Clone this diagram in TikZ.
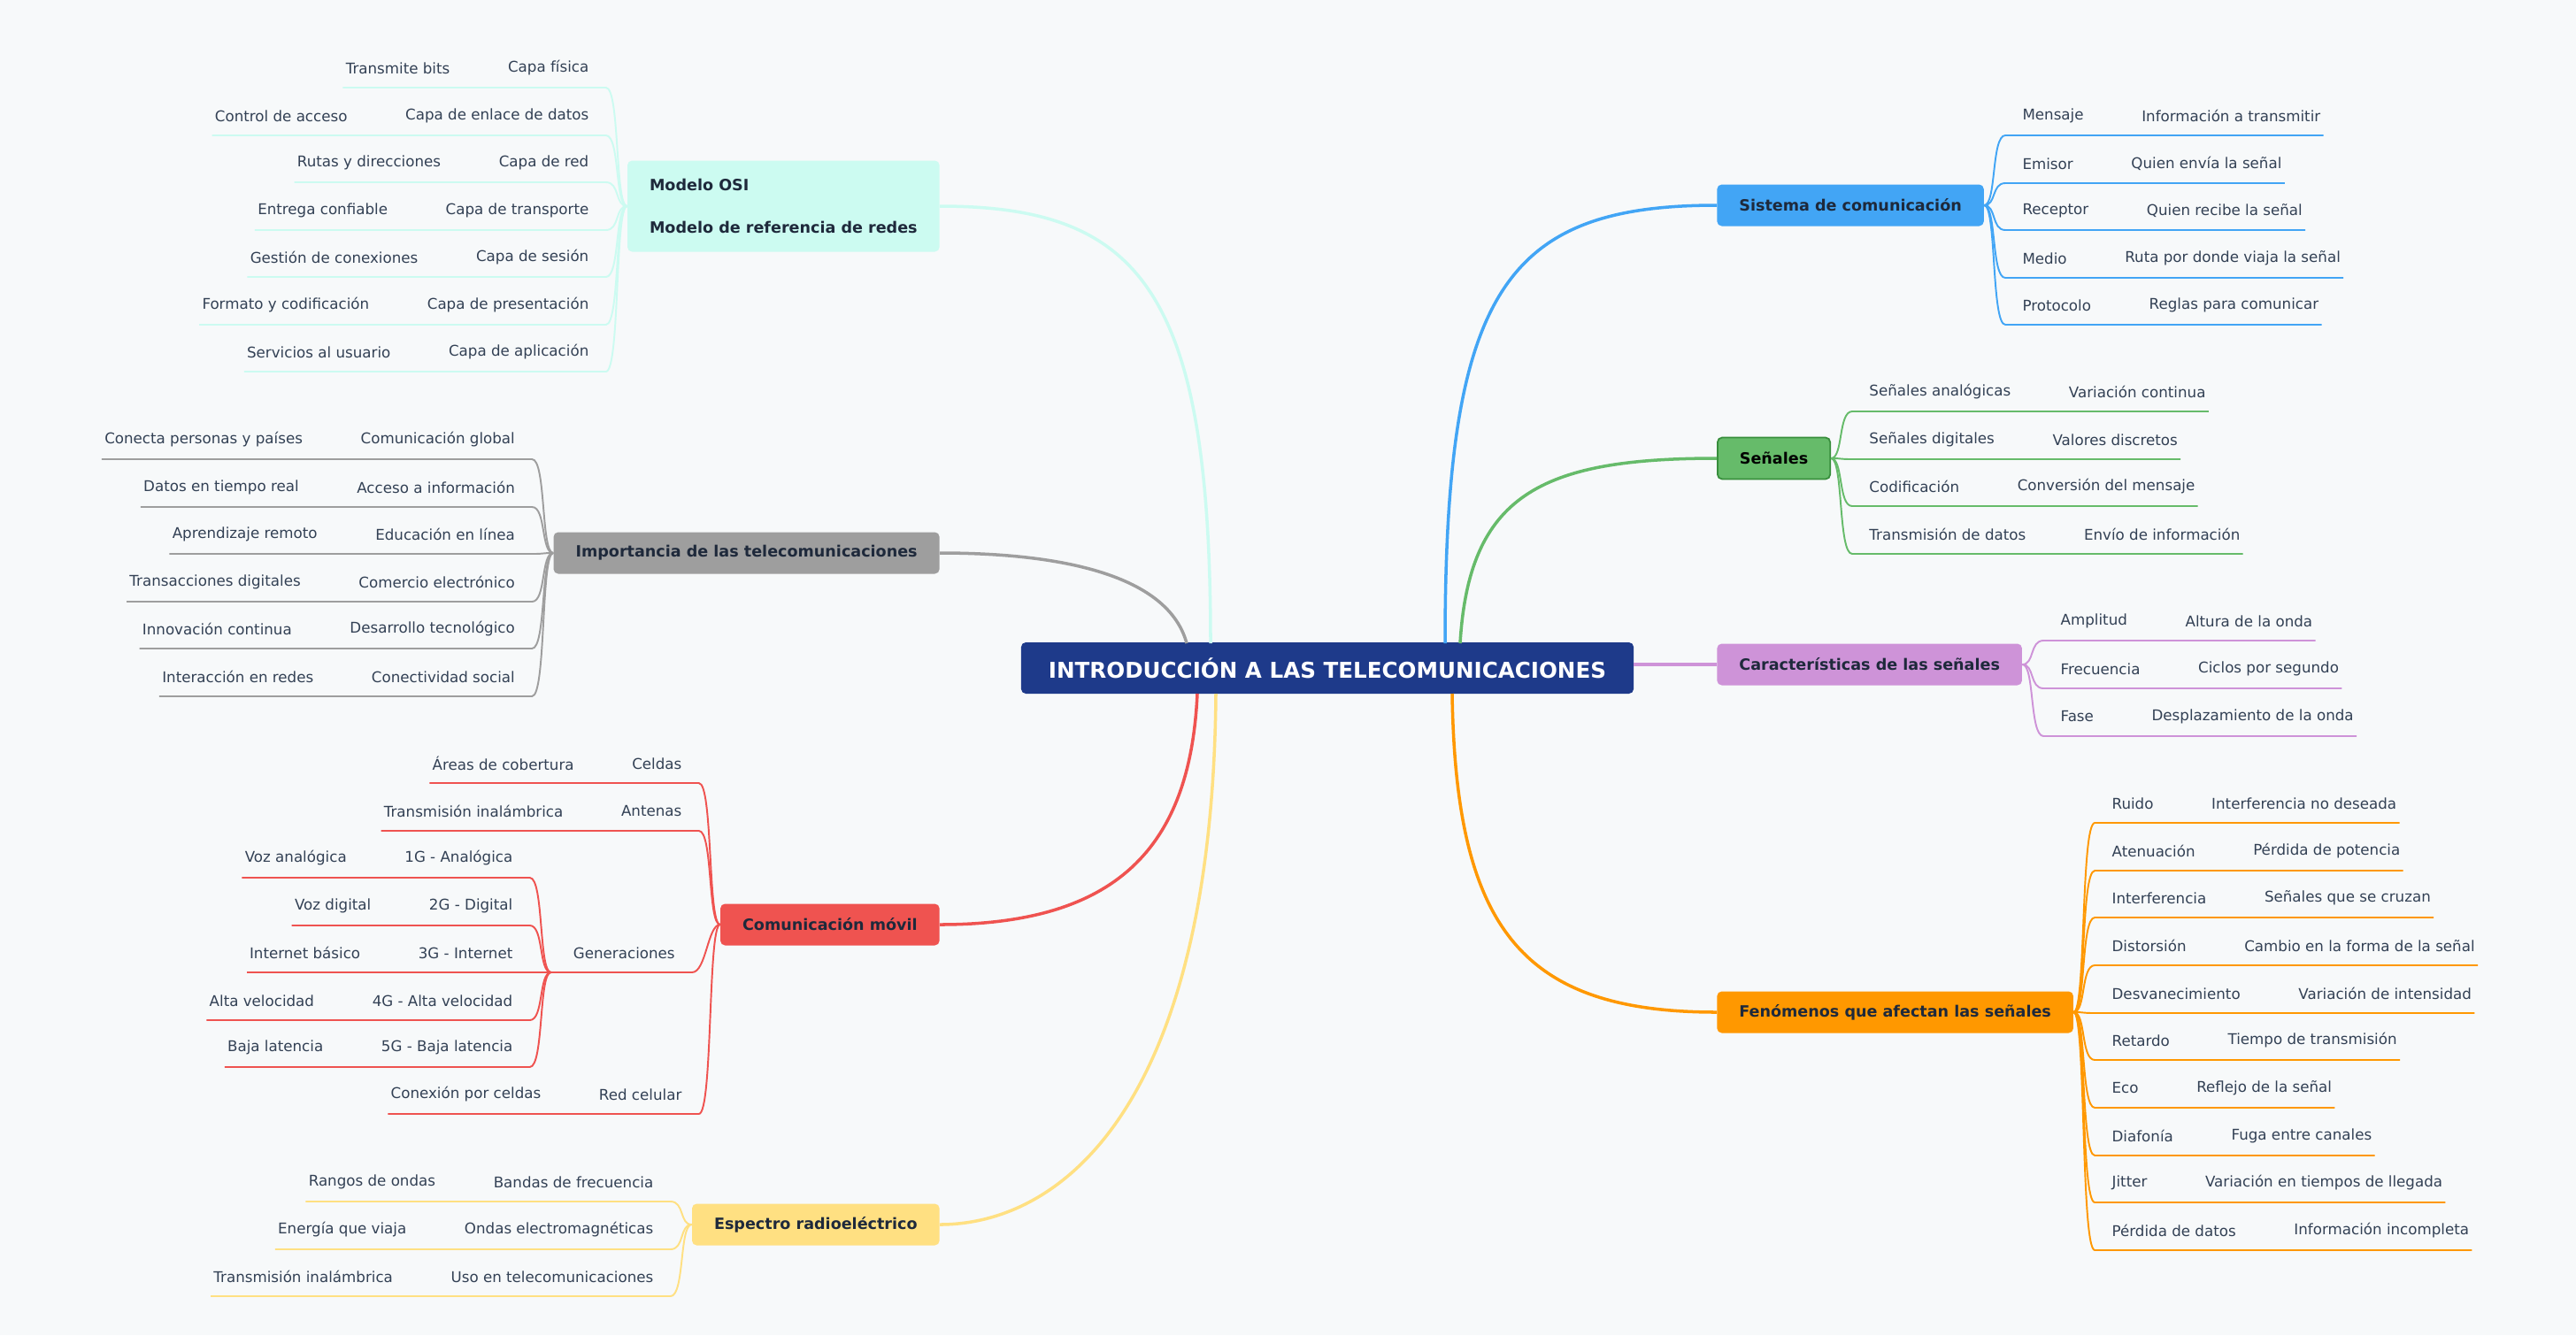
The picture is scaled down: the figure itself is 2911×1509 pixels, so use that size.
\documentclass[tikz,border=0pt]{standalone}
\usepackage{fontspec}
\setmainfont{DejaVu Sans}
\usepackage{tikz}
\usetikzlibrary{positioning,calc}

\definecolor{bgcol}{HTML}{F7F9FA}
\definecolor{txtcol}{HTML}{334155}
\definecolor{darkcol}{HTML}{1E293B}
\definecolor{rootcol}{HTML}{1E3A8A}
\definecolor{bluecol}{HTML}{42A5F5}
\definecolor{greencol}{HTML}{66BB6A}
\definecolor{greenedge}{HTML}{388E3C}
\definecolor{purplecol}{HTML}{CE93D8}
\definecolor{orangecol}{HTML}{FF9800}
\definecolor{cyancol}{HTML}{CCFBF1}
\definecolor{graycol}{HTML}{9E9E9E}
\definecolor{redcol}{HTML}{EF5350}
\definecolor{yellowcol}{HTML}{FFE082}

\tikzset{
  leaf/.style={inner sep=0pt,text=txtcol,font=\fontsize{9.5}{11}\selectfont},
  branch/.style={rounded corners=3pt,inner xsep=0.5cm,minimum height=0.94cm,
    text=darkcol,font=\fontsize{10}{12}\selectfont\bfseries},
  link/.style={line width=1.1pt},
  mainlink/.style={line width=2pt}
}

% right-hand row: parent, name, line y, label, text, colour
\newcommand{\rowR}[6]{%
  \coordinate (#2y) at (0,#3);
  \path (#1.east) ++(24,0) coordinate (#2o);
  \node[leaf,anchor=west] (#2) at ($(#2o |- #2y)+(19,-22)$) {#4};
  \node[leaf,right=1.3cm of #2] (#2d) {#5};
  \draw[link,#6] (#1.east) .. controls +(14,0) and +(-16,0) .. (#2o |- #2y)
    -- ($(#2d.east |- #2y)+(3,0)$);
}
% left-hand row
\newcommand{\rowL}[6]{%
  \coordinate (#2y) at (0,#3);
  \path (#1.west) ++(-24,0) coordinate (#2o);
  \node[leaf,anchor=east] (#2) at ($(#2o |- #2y)+(-19,-22)$) {#4};
  \node[leaf,left=1.3cm of #2] (#2d) {#5};
  \draw[link,#6] (#1.west) .. controls +(-14,0) and +(16,0) .. (#2o |- #2y)
    -- ($(#2d.west |- #2y)+(-3,0)$);
}

\begin{document}
\begin{tikzpicture}[x=0.02cm,y=-0.02cm]
  \fill[bgcol] (0,0) rectangle (2911,1509);
  \useasboundingbox (0,0) rectangle (2911,1509);

  % centre
  \node[rounded corners=3pt,fill=rootcol,text=white,inner xsep=0.62cm,minimum height=1.16cm,
    font=\fontsize{14}{16}\selectfont\bfseries] (root) at (1500,755)
    {INTRODUCCIÓN A LAS TELECOMUNICACIONES};

  % branches
  \node[branch,fill=bluecol,anchor=west] (sis) at (1940,232) {Sistema de comunicación};
  \node[branch,fill=greencol,draw=greenedge,line width=1pt,text=black,anchor=west] (sen) at (1940,518) {Señales};
  \node[branch,fill=purplecol,anchor=west] (car) at (1940,751) {Características de las señales};
  \node[branch,fill=orangecol,anchor=west] (fen) at (1940,1144) {Fenómenos que afectan las señales};
  \node[branch,fill=cyancol,anchor=east,align=left,minimum height=2.06cm,
    font=\fontsize{10}{27.5}\selectfont\bfseries] (osi) at (1062,233)
    {Modelo OSI\\Modelo de referencia de redes};
  \node[branch,fill=graycol,anchor=east] (imp) at (1062,625) {Importancia de las telecomunicaciones};
  \node[branch,fill=redcol,anchor=east] (mov) at (1062,1045) {Comunicación móvil};
  \node[branch,fill=yellowcol,anchor=east] (esp) at (1062,1384) {Espectro radioeléctrico};

  % main connectors
  \draw[mainlink,bluecol] (1633,727) .. controls (1633,330) and (1700,232) .. (sis.west);
  \draw[mainlink,greencol] (1650,727) .. controls (1660,560) and (1740,518) .. (sen.west);
  \draw[mainlink,purplecol] (root.east |- car.west) -- (car.west);
  \draw[mainlink,orangecol] (1641,784) .. controls (1645,1050) and (1720,1144) .. (fen.west);
  \draw[mainlink,cyancol] (1368,727) .. controls (1368,330) and (1290,233) .. (osi.east);
  \draw[mainlink,graycol] (1341,727) .. controls (1320,650) and (1200,625) .. (imp.east);
  \draw[mainlink,redcol] (1353,784) .. controls (1345,960) and (1260,1045) .. (mov.east);
  \draw[mainlink,yellowcol] (1374,784) .. controls (1370,1250) and (1200,1384) .. (esp.east);

  % Sistema de comunicación
  \rowR{sis}{s1}{153}{Mensaje}{Información a transmitir}{bluecol}
  \rowR{sis}{s2}{207}{Emisor}{Quien envía la señal}{bluecol}
  \rowR{sis}{s3}{260}{Receptor}{Quien recibe la señal}{bluecol}
  \rowR{sis}{s4}{314}{Medio}{Ruta por donde viaja la señal}{bluecol}
  \rowR{sis}{s5}{367}{Protocolo}{Reglas para comunicar}{bluecol}

  % Señales
  \rowR{sen}{g1}{465}{Señales analógicas}{Variación continua}{greencol}
  \rowR{sen}{g2}{519}{Señales digitales}{Valores discretos}{greencol}
  \rowR{sen}{g3}{572}{Codificación}{Conversión del mensaje}{greencol}
  \rowR{sen}{g4}{626}{Transmisión de datos}{Envío de información}{greencol}

  % Características
  \rowR{car}{c1}{724}{Amplitud}{Altura de la onda}{purplecol}
  \rowR{car}{c2}{778}{Frecuencia}{Ciclos por segundo}{purplecol}
  \rowR{car}{c3}{832}{Fase}{Desplazamiento de la onda}{purplecol}

  % Fenómenos
  \rowR{fen}{f1}{930}{Ruido}{Interferencia no deseada}{orangecol}
  \rowR{fen}{f2}{984}{Atenuación}{Pérdida de potencia}{orangecol}
  \rowR{fen}{f3}{1037}{Interferencia}{Señales que se cruzan}{orangecol}
  \rowR{fen}{f4}{1091}{Distorsión}{Cambio en la forma de la señal}{orangecol}
  \rowR{fen}{f5}{1145}{Desvanecimiento}{Variación de intensidad}{orangecol}
  \rowR{fen}{f6}{1198}{Retardo}{Tiempo de transmisión}{orangecol}
  \rowR{fen}{f7}{1252}{Eco}{Reflejo de la señal}{orangecol}
  \rowR{fen}{f8}{1306}{Diafonía}{Fuga entre canales}{orangecol}
  \rowR{fen}{f9}{1359}{Jitter}{Variación en tiempos de llegada}{orangecol}
  \rowR{fen}{f10}{1413}{Pérdida de datos}{Información incompleta}{orangecol}

  % Modelo OSI
  \rowL{osi}{o1}{99}{Capa física}{Transmite bits}{cyancol}
  \rowL{osi}{o2}{153}{Capa de enlace de datos}{Control de acceso}{cyancol}
  \rowL{osi}{o3}{206}{Capa de red}{Rutas y direcciones}{cyancol}
  \rowL{osi}{o4}{260}{Capa de transporte}{Entrega confiable}{cyancol}
  \rowL{osi}{o5}{313}{Capa de sesión}{Gestión de conexiones}{cyancol}
  \rowL{osi}{o6}{367}{Capa de presentación}{Formato y codificación}{cyancol}
  \rowL{osi}{o7}{420}{Capa de aplicación}{Servicios al usuario}{cyancol}

  % Importancia
  \rowL{imp}{i1}{519}{Comunicación global}{Conecta personas y países}{graycol}
  \rowL{imp}{i2}{573}{Acceso a información}{Datos en tiempo real}{graycol}
  \rowL{imp}{i3}{626}{Educación en línea}{Aprendizaje remoto}{graycol}
  \rowL{imp}{i4}{680}{Comercio electrónico}{Transacciones digitales}{graycol}
  \rowL{imp}{i5}{733}{Desarrollo tecnológico}{Innovación continua}{graycol}
  \rowL{imp}{i6}{787}{Conectividad social}{Interacción en redes}{graycol}

  % Comunicación móvil
  \rowL{mov}{m1}{885}{Celdas}{Áreas de cobertura}{redcol}
  \rowL{mov}{m2}{939}{Antenas}{Transmisión inalámbrica}{redcol}
  \node[inner sep=0pt,minimum size=0pt] (gen) at (623,1099) {};
  \node[leaf,anchor=east] (m3) at (763,1077) {Generaciones};
  \draw[link,redcol] (mov.west) .. controls +(-14,0) and +(16,0) .. (782,1099) -- (gen.center);
  \rowL{gen}{n1}{992}{1G - Analógica}{Voz analógica}{redcol}
  \rowL{gen}{n2}{1046}{2G - Digital}{Voz digital}{redcol}
  \rowL{gen}{n3}{1099}{3G - Internet}{Internet básico}{redcol}
  \rowL{gen}{n4}{1153}{4G - Alta velocidad}{Alta velocidad}{redcol}
  \rowL{gen}{n5}{1206}{5G - Baja latencia}{Baja latencia}{redcol}
  \rowL{mov}{m4}{1259}{Red celular}{Conexión por celdas}{redcol}

  % Espectro
  \rowL{esp}{e1}{1358}{Bandas de frecuencia}{Rangos de ondas}{yellowcol}
  \rowL{esp}{e2}{1412}{Ondas electromagnéticas}{Energía que viaja}{yellowcol}
  \rowL{esp}{e3}{1465}{Uso en telecomunicaciones}{Transmisión inalámbrica}{yellowcol}
\end{tikzpicture}
\end{document}
